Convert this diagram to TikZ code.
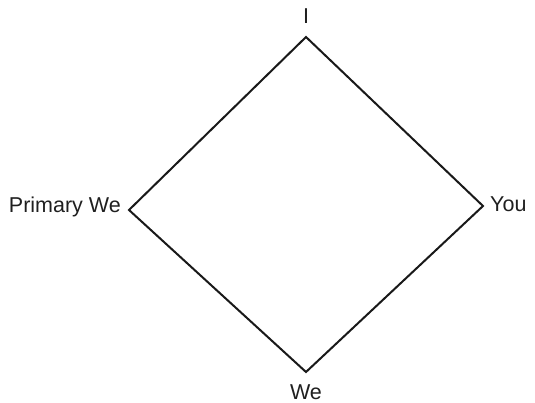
\documentclass[tikz,border=0pt]{standalone}
\usepackage{fontspec}
\setmainfont{Liberation Sans}
\begin{document}
\begin{tikzpicture}[x=1pt,y=-1pt,
  lbl/.style={inner sep=0pt,text=black!88,font=\fontsize{21.5}{25}\selectfont},
  edge/.style={line width=2pt,line join=miter,draw=black!90}]
\useasboundingbox (0,0) rectangle (535,403);
\coordinate (top) at (306,37);
\coordinate (left) at (129,210);
\coordinate (right) at (483,206);
\coordinate (bottom) at (306,372);
\draw[edge] (top) -- (right) -- (bottom) -- (left) -- cycle;
\node[lbl,anchor=base] (I) at (306,24) {I};
\node[lbl,anchor=base east] (pw) at (121,213) {Primary We};
\node[lbl,anchor=base west] (you) at (490,212) {You};
\node[lbl,anchor=base] (we) at (306,399) {We};
\end{tikzpicture}
\end{document}
